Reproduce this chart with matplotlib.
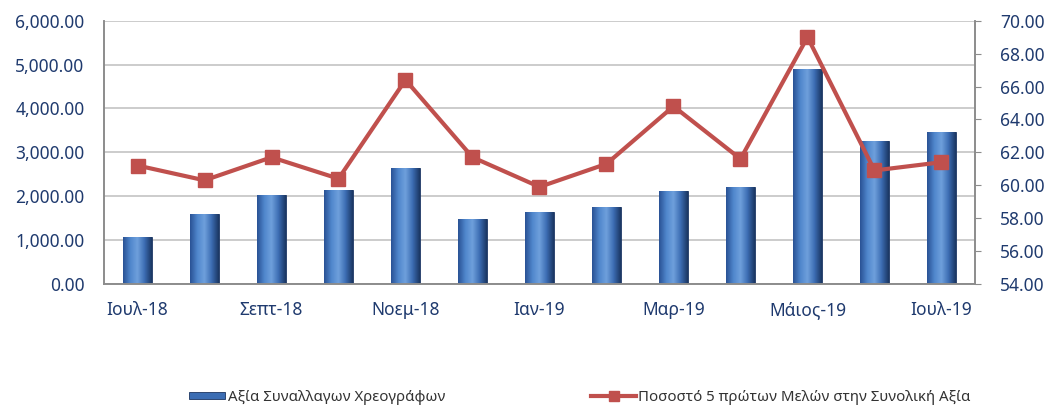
import numpy as np
import matplotlib
matplotlib.use('Agg')
import matplotlib.pyplot as plt
from matplotlib.colors import LinearSegmentedColormap

months = ['Ιουλ-18', 'Αυγ-18', 'Σεπτ-18', 'Οκτ-18', 'Νοεμ-18', 'Δεκ-18', 'Ιαν-19',
          'Φεβ-19', 'Μαρ-19', 'Απρ-19', 'Μάιος-19', 'Ιουν-19', 'Ιουλ-19']
trade_value = [1070, 1600, 2020, 2150, 2650, 1480, 1640, 1750, 2130, 2210, 4900, 3260, 3460]
top5_share = [61.2, 60.3, 61.7, 60.4, 66.4, 61.7, 59.9, 61.3, 64.8, 61.6, 69.0, 60.9, 61.4]

label_bar = 'Αξία Συναλλαγων Χρεογράφων'
label_line = 'Ποσοστό 5 πρώτων Μελών στην Συνολική Αξία'

navy = '#1F3A6E'
plt.rcParams['font.family'] = ['Noto Sans', 'DejaVu Sans']

fig = plt.figure(figsize=(10.47, 4.08), dpi=100)
ax = fig.add_axes([104/1047, 1-284/408, (975-104)/1047, (284-20.7)/408])
ax2 = ax.twinx()

x = np.arange(len(months))
bars = ax.bar(x, trade_value, width=0.42, color='#3C6DB3', edgecolor='#1C3560',
              linewidth=0.6, label=label_bar, zorder=2)

# cylinder-ish shading inside each bar
cmap = LinearSegmentedColormap.from_list('cyl', ['#2A5295', '#4F86CC', '#6FA0DC', '#3C6DB3', '#1B3763'])
grad = np.linspace(0, 1, 64).reshape(1, -1)
for b in bars:
    x0, w, h = b.get_x(), b.get_width(), b.get_height()
    im = ax.imshow(grad, cmap=cmap, aspect='auto', extent=(x0, x0 + w, 0, h), zorder=2.5)
    im.set_clip_path(b)

ax2.plot(x, top5_share, color='#C0504D', lw=3, marker='s', markersize=10,
         label=label_line, zorder=3)

ax.set_xlim(-0.5, len(months) - 0.5)
ax.set_ylim(0, 6000)
ax2.set_ylim(54, 70)
ax.set_yticks(np.arange(0, 6001, 1000))
ax.set_yticklabels(['{:,.2f}'.format(v) for v in np.arange(0, 6001, 1000)])
ax2.set_yticks(np.arange(54, 70.1, 2))
ax2.set_yticklabels(['{:.2f}'.format(v) for v in np.arange(54, 70.1, 2)])
ax.set_xticks(x[::2])
ax.set_xticklabels(months[::2])

ax.grid(axis='y', color='#C4C4C4', lw=1.2, zorder=0)
ax.set_axisbelow(True)
for a in (ax, ax2):
    for s in a.spines.values():
        s.set_color('#8C8C8C')
        s.set_linewidth(1.2)
    a.spines['top'].set_visible(False)
ax.tick_params(axis='y', length=0, labelsize=12.5, labelcolor=navy, pad=14)
ax.tick_params(axis='x', length=0, labelsize=12.5, labelcolor=navy, pad=12)
ax2.tick_params(axis='y', length=4, color='#8C8C8C', labelsize=12.5, labelcolor=navy, pad=14)

h1, l1 = ax.get_legend_handles_labels()
h2, l2 = ax2.get_legend_handles_labels()
fig.legend(h1, l1, loc='center', bbox_to_anchor=(0.303, 0.025), frameon=False,
           fontsize=10.8, handlelength=2.4, handleheight=0.35, handletextpad=0.15,
           labelcolor='#333333')
fig.legend(h2, l2, loc='center', bbox_to_anchor=(0.746, 0.025), frameon=False,
           fontsize=10.8, handlelength=3.0, handletextpad=0.15, markerscale=0.7,
           labelcolor='#333333')

fig.savefig('out.png', dpi=100)
